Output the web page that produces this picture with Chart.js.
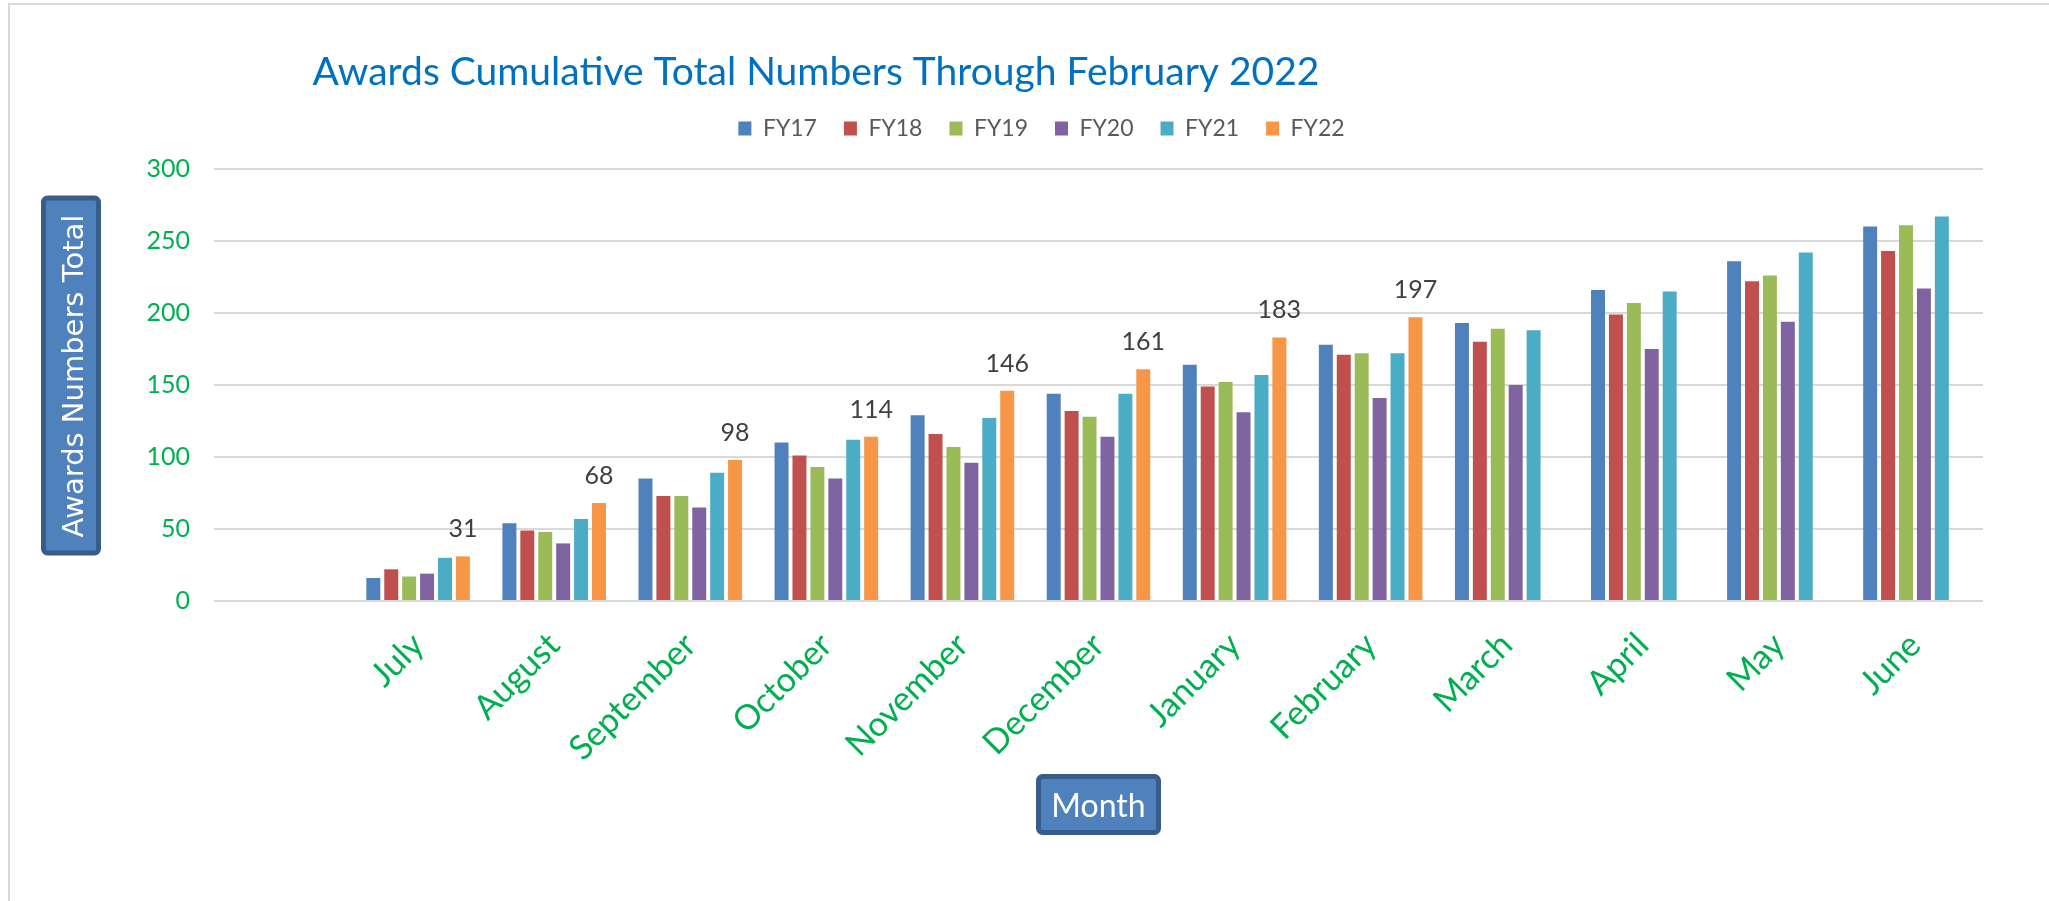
<!DOCTYPE html>
<html>
<head>
<meta charset="utf-8">
<script src="https://cdn.jsdelivr.net/npm/chart.js@4.4.0/dist/chart.umd.min.js"></script>
<style>
  html, body { margin: 0; padding: 0; background: #fff; }
  #wrap { position: relative; width: 2049px; height: 901px; overflow: hidden; }
  #frame { position: absolute; left: 8px; top: 3px; width: 2100px; height: 950px;
           border-top: 2px solid #D9D9D9; border-left: 2px solid #D9D9D9; pointer-events: none; }
</style>
</head>
<body>
<div id="wrap">
  <canvas id="awardsChart" width="2049" height="901"></canvas>
  <div id="frame"></div>
</div>
<script>
// values, July..June
const months = ['July', 'August', 'September', 'October', 'November', 'December',
                'January', 'February', 'March', 'April', 'May', 'June'];
const fy17 = [16, 54, 85, 110, 129, 144, 164, 178, 193, 216, 236, 260];
const fy18 = [22, 49, 73, 101, 116, 132, 149, 171, 180, 199, 222, 243];
const fy19 = [17, 48, 73, 93, 107, 128, 152, 172, 189, 207, 226, 261];
const fy20 = [19, 40, 65, 85, 96, 114, 131, 141, 150, 175, 194, 217];
const fy21 = [30, 57, 89, 112, 127, 144, 157, 172, 188, 215, 242, 267];
const fy22 = [31, 68, 98, 114, 146, 161, 183, 197, null, null, null, null];
const yTicks = [0, 50, 100, 150, 200, 250, 300];

const titleText = 'Awards Cumulative Total Numbers Through February 2022';
const yTitle = 'Awards Numbers Total';
const xTitle = 'Month';

// the reference keeps an empty first category slot
const labels = [''].concat(months);
const series = [
  { label: 'FY17', values: fy17, color: '#4F81BD' },
  { label: 'FY18', values: fy18, color: '#C0504D' },
  { label: 'FY19', values: fy19, color: '#9BBB59' },
  { label: 'FY20', values: fy20, color: '#8064A2' },
  { label: 'FY21', values: fy21, color: '#4BACC6' },
  { label: 'FY22', values: fy22, color: '#F79646' }
];

function drawBox(ctx, x, y, w, h) {
  ctx.beginPath();
  ctx.roundRect(x, y, w, h, 4);
  ctx.fillStyle = '#4F81BD';
  ctx.fill();
  ctx.lineWidth = 5;
  ctx.strokeStyle = '#385D8A';
  ctx.stroke();
}

// push the plot down a bit below the legend
const legendGap = {
  id: 'legendGap',
  beforeInit(chart) {
    const fit = chart.legend.fit;
    chart.legend.fit = function () {
      fit.call(this);
      this.height += 19;
    };
  }
};

const decorations = {
  id: 'decorations',
  afterDatasetsDraw(chart) {
    const ctx = chart.ctx;
    const meta = chart.getDatasetMeta(5);
    ctx.save();
    ctx.font = '25px Lato';
    ctx.fillStyle = '#404040';
    ctx.textAlign = 'center';
    ctx.textBaseline = 'alphabetic';
    meta.data.forEach((bar, i) => {
      const v = chart.data.datasets[5].data[i];
      if (v == null) return;
      ctx.fillText(String(v), bar.x, bar.y - 19);
    });
    ctx.restore();
  },
  afterDraw(chart) {
    const ctx = chart.ctx;
    const area = chart.chartArea;
    ctx.save();

    // chart title
    ctx.font = '39px Lato';
    ctx.fillStyle = '#0070C0';
    ctx.textAlign = 'center';
    ctx.textBaseline = 'middle';
    ctx.fillText(titleText, 816, 72);

    // y axis title box
    const cy = (area.top + area.bottom) / 2 - 9;
    drawBox(ctx, 43.5, cy - 178, 55, 355);
    ctx.translate(71, cy);
    ctx.rotate(-Math.PI / 2);
    ctx.font = '29px "DejaVu Sans"';
    ctx.fillStyle = '#FFFFFF';
    ctx.textAlign = 'center';
    ctx.textBaseline = 'alphabetic';
    ctx.fillText(yTitle, 0, 12);
    ctx.setTransform(1, 0, 0, 1, 0, 0);

    // x axis title box
    const cx = (area.left + area.right) / 2;
    drawBox(ctx, cx - 60, area.bottom + 175.5, 120, 56);
    ctx.font = '32px Lato';
    ctx.fillStyle = '#FFFFFF';
    ctx.textAlign = 'center';
    ctx.textBaseline = 'alphabetic';
    ctx.fillText(xTitle, cx, area.bottom + 216);
    ctx.restore();
  }
};

const ctx = document.getElementById('awardsChart').getContext('2d');
const chart = new Chart(ctx, {
  type: 'bar',
  data: {
    labels: labels,
    datasets: series.map(s => ({
      label: s.label,
      data: [null].concat(s.values),
      backgroundColor: s.color,
      borderColor: s.color,
      borderWidth: 0,
      categoryPercentage: 0.79,
      barPercentage: 0.78
    }))
  },
  options: {
    responsive: false,
    animation: false,
    devicePixelRatio: 1,
    layout: { padding: { top: 90, left: 100, right: 66, bottom: 0 } },
    plugins: {
      title: { display: false },
      tooltip: { enabled: false },
      legend: {
        position: 'top',
        labels: {
          boxWidth: 13,
          boxHeight: 14,
          padding: 27,
          color: '#595959',
          font: { family: 'Lato', size: 23 }
        }
      }
    },
    scales: {
      x: {
        grid: { display: false },
        border: { display: false },
        ticks: {
          color: '#00B050',
          font: { family: 'Lato', size: 34 },
          minRotation: 45,
          maxRotation: 45,
          autoSkip: false,
          padding: 16
        },
        afterFit: s => { s.height = 300; }
      },
      y: {
        min: 0,
        max: 300,
        afterBuildTicks: s => { s.ticks = yTicks.map(v => ({ value: v })); },
        ticks: {
          color: '#00B050',
          font: { family: 'Lato', size: 25 },
          padding: 24
        },
        grid: { color: '#D9D9D9', lineWidth: 2, drawTicks: false },
        border: { display: false },
        afterFit: s => { s.width = 114; }
      }
    }
  },
  plugins: [legendGap, decorations]
});
</script>
</body>
</html>
